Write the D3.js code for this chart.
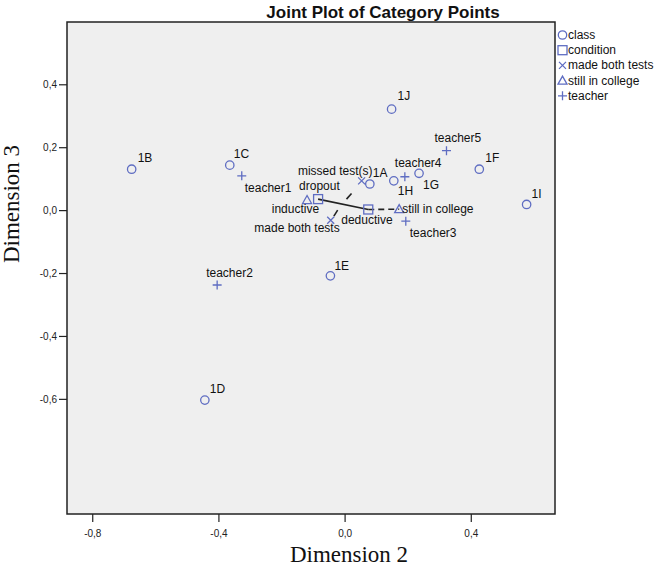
<!DOCTYPE html>
<html>
<head>
<meta charset="utf-8">
<script src="https://cdnjs.cloudflare.com/ajax/libs/d3/7.8.5/d3.min.js"></script>
<style>
  html, body { margin: 0; padding: 0; background: #fff; }
  svg { display: block; }
</style>
</head>
<body>
<svg id="chart" width="657" height="571"></svg>
<script>
// ---------- DATA ----------
const title = "Joint Plot of Category Points";
const xTitle = "Dimension 2";
const yTitle = "Dimension 3";
const xTicks = [-0.8, -0.4, 0.0, 0.4];
const yTicks = [0.4, 0.2, 0.0, -0.2, -0.4, -0.6];
const xDomain = [-0.88, 0.667];
const yDomain = [-0.966, 0.598];

const legendGroups = ["class", "condition", "made both tests", "still in college", "teacher"];

const classNames = ["1A", "1B", "1C", "1D", "1E", "1F", "1G", "1H", "1I", "1J"];
const classDim2 = [0.080, -0.675, -0.364, -0.443, -0.045, 0.427, 0.236, 0.156, 0.577, 0.149];
const classDim3 = [0.083, 0.130, 0.143, -0.604, -0.209, 0.130, 0.117, 0.093, 0.018, 0.321];

const conditionNames = ["inductive", "deductive"];
const conditionDim2 = [-0.084, 0.075];
const conditionDim3 = [0.035, 0.002];

const testNames = ["missed test(s)", "made both tests"];
const testDim2 = [0.054, -0.044];
const testDim3 = [0.093, -0.032];

const collegeNames = ["dropout", "still in college"];
const collegeDim2 = [-0.119, 0.173];
const collegeDim3 = [0.032, 0.003];

const teacherNames = ["teacher1", "teacher2", "teacher3", "teacher4", "teacher5"];
const teacherDim2 = [-0.326, -0.404, 0.194, 0.191, 0.323];
const teacherDim3 = [0.109, -0.238, -0.035, 0.106, 0.189];

// connecting lines (data coordinates): [x1, y1, x2, y2, dashed]
const connectors = [
  [-0.084, 0.035, 0.075, 0.002, false],
  [0.075, 0.002, 0.173, 0.003, true],
  [0.022, 0.053, 0.006, 0.035, false],
  [-0.022, 0.000, -0.034, -0.019, false]
];

// ---------- LAYOUT (label offsets in px, anchor) ----------
const labelLayout = {
  "1A": [3, -7, "start"], "1B": [6, -7, "start"], "1C": [4, -7, "start"],
  "1D": [5, -7, "start"], "1E": [4, -6, "start"], "1F": [6, -7, "start"],
  "1G": [4, 16, "start"], "1H": [4, 14, "start"], "1I": [5, -6, "start"],
  "1J": [6, -9, "start"],
  "teacher1": [3, 16, "start"], "teacher2": [-11, -8, "start"],
  "teacher3": [4, 16, "start"], "teacher4": [-10, -10, "start"],
  "teacher5": [-12, -9, "start"],
  "inductive": [1, 14, "end"], "deductive": [-27, 15, "start"],
  "missed test(s)": [11, -6, "end"], "made both tests": [9, 12, "end"],
  "dropout": [-8, -10, "start"], "still in college": [3, 4, "start"]
};

// ---------- BUILD ----------
const points = [];
const add = (group, names, xs, ys) => names.forEach((n, i) => points.push({group, name: n, x: xs[i], y: ys[i]}));
add("class", classNames, classDim2, classDim3);
add("condition", conditionNames, conditionDim2, conditionDim3);
add("made both tests", testNames, testDim2, testDim3);
add("still in college", collegeNames, collegeDim2, collegeDim3);
add("teacher", teacherNames, teacherDim2, teacherDim3);

const svg = d3.select("#chart");
const plot = {left: 67, right: 555, top: 22, bottom: 514};
const x = d3.scaleLinear().domain(xDomain).range([plot.left, plot.right]);
const y = d3.scaleLinear().domain(yDomain).range([plot.bottom, plot.top]);
const markColor = "#5f6dc2";
const sans = "Liberation Sans, Arial, sans-serif";
const serif = "Liberation Serif, Times New Roman, serif";
const fmt = d => d3.format(".1f")(d).replace(".", ",").replace("\u2212", "-");

// title
svg.append("text").attr("x", 383).attr("y", 18).attr("text-anchor", "middle")
  .attr("font-family", sans).attr("font-weight", "bold")
  .attr("font-size", 17).attr("fill", "#111").text(title);

// plot background
svg.append("rect").attr("x", plot.left).attr("y", plot.top)
  .attr("width", plot.right - plot.left).attr("height", plot.bottom - plot.top)
  .attr("fill", "#efefef");

// axes
const xAxis = d3.axisBottom(x).tickValues(xTicks).tickSize(8).tickFormat(fmt);
const yAxis = d3.axisLeft(y).tickValues(yTicks).tickSize(8).tickFormat(fmt);
const gx = svg.append("g").attr("transform", `translate(0,${plot.bottom})`).call(xAxis);
const gy = svg.append("g").attr("transform", `translate(${plot.left},0)`).call(yAxis);
[gx, gy].forEach(g => {
  g.select(".domain").remove();
  g.selectAll(".tick line").attr("stroke", "#222").attr("stroke-width", 1.2);
  g.selectAll(".tick text").attr("font-family", sans)
    .attr("font-size", 10).attr("fill", "#222");
});
gx.selectAll(".tick text").attr("dy", "1.15em");
gy.selectAll(".tick text").attr("x", -10);

// frame
svg.append("rect").attr("x", plot.left).attr("y", plot.top)
  .attr("width", plot.right - plot.left).attr("height", plot.bottom - plot.top)
  .attr("fill", "none").attr("stroke", "#222").attr("stroke-width", 1.5);

// axis titles
svg.append("text").attr("x", 349).attr("y", 562).attr("text-anchor", "middle")
  .attr("font-family", serif).attr("font-size", 23)
  .attr("fill", "#111").text(xTitle);
svg.append("text").attr("transform", "translate(19,204) rotate(-90)").attr("text-anchor", "middle")
  .attr("font-family", serif).attr("font-size", 23)
  .attr("fill", "#111").text(yTitle);

// connectors
svg.append("g").selectAll("line").data(connectors).join("line")
  .attr("x1", d => x(d[0])).attr("y1", d => y(d[1]))
  .attr("x2", d => x(d[2])).attr("y2", d => y(d[3]))
  .attr("stroke", "#222").attr("stroke-width", 1.6)
  .attr("stroke-dasharray", d => d[4] ? "6,4" : null);

// symbol drawer
function drawSymbol(g, group) {
  const s = g.append("g").attr("fill", "none").attr("stroke", markColor).attr("stroke-width", 1.3);
  if (group === "class") s.append("circle").attr("r", 4.2);
  else if (group === "condition") s.append("rect").attr("x", -4.5).attr("y", -4.5).attr("width", 9).attr("height", 9);
  else if (group === "made both tests") s.append("path").attr("d", "M-3.5,-3.5L3.5,3.5M-3.5,3.5L3.5,-3.5");
  else if (group === "still in college") s.append("path").attr("d", "M0,-4.5L4.5,3.5L-4.5,3.5Z");
  else s.append("path").attr("d", "M-4.5,0L4.5,0M0,-4.5L0,4.5");
}

// points
const pg = svg.append("g");
points.forEach(p => {
  const g = pg.append("g").attr("transform", `translate(${x(p.x)},${y(p.y)})`);
  drawSymbol(g, p.group);
});
// labels
const lg = svg.append("g");
points.forEach(p => {
  const l = labelLayout[p.name] || [4, -6, "start"];
  lg.append("text").attr("x", x(p.x) + l[0]).attr("y", y(p.y) + l[1])
    .attr("text-anchor", l[2])
    .attr("font-family", sans).attr("font-size", 12)
    .attr("fill", "#111").text(p.name);
});

// legend
const leg = svg.append("g");
legendGroups.forEach((grp, i) => {
  const cy = 35 + i * 15.2;
  const g = leg.append("g").attr("transform", `translate(562.5,${cy})`);
  drawSymbol(g, grp);
  leg.append("text").attr("x", 568).attr("y", cy + 4)
    .attr("font-family", sans).attr("font-size", 12)
    .attr("fill", "#111").text(grp);
});
</script>
</body>
</html>
